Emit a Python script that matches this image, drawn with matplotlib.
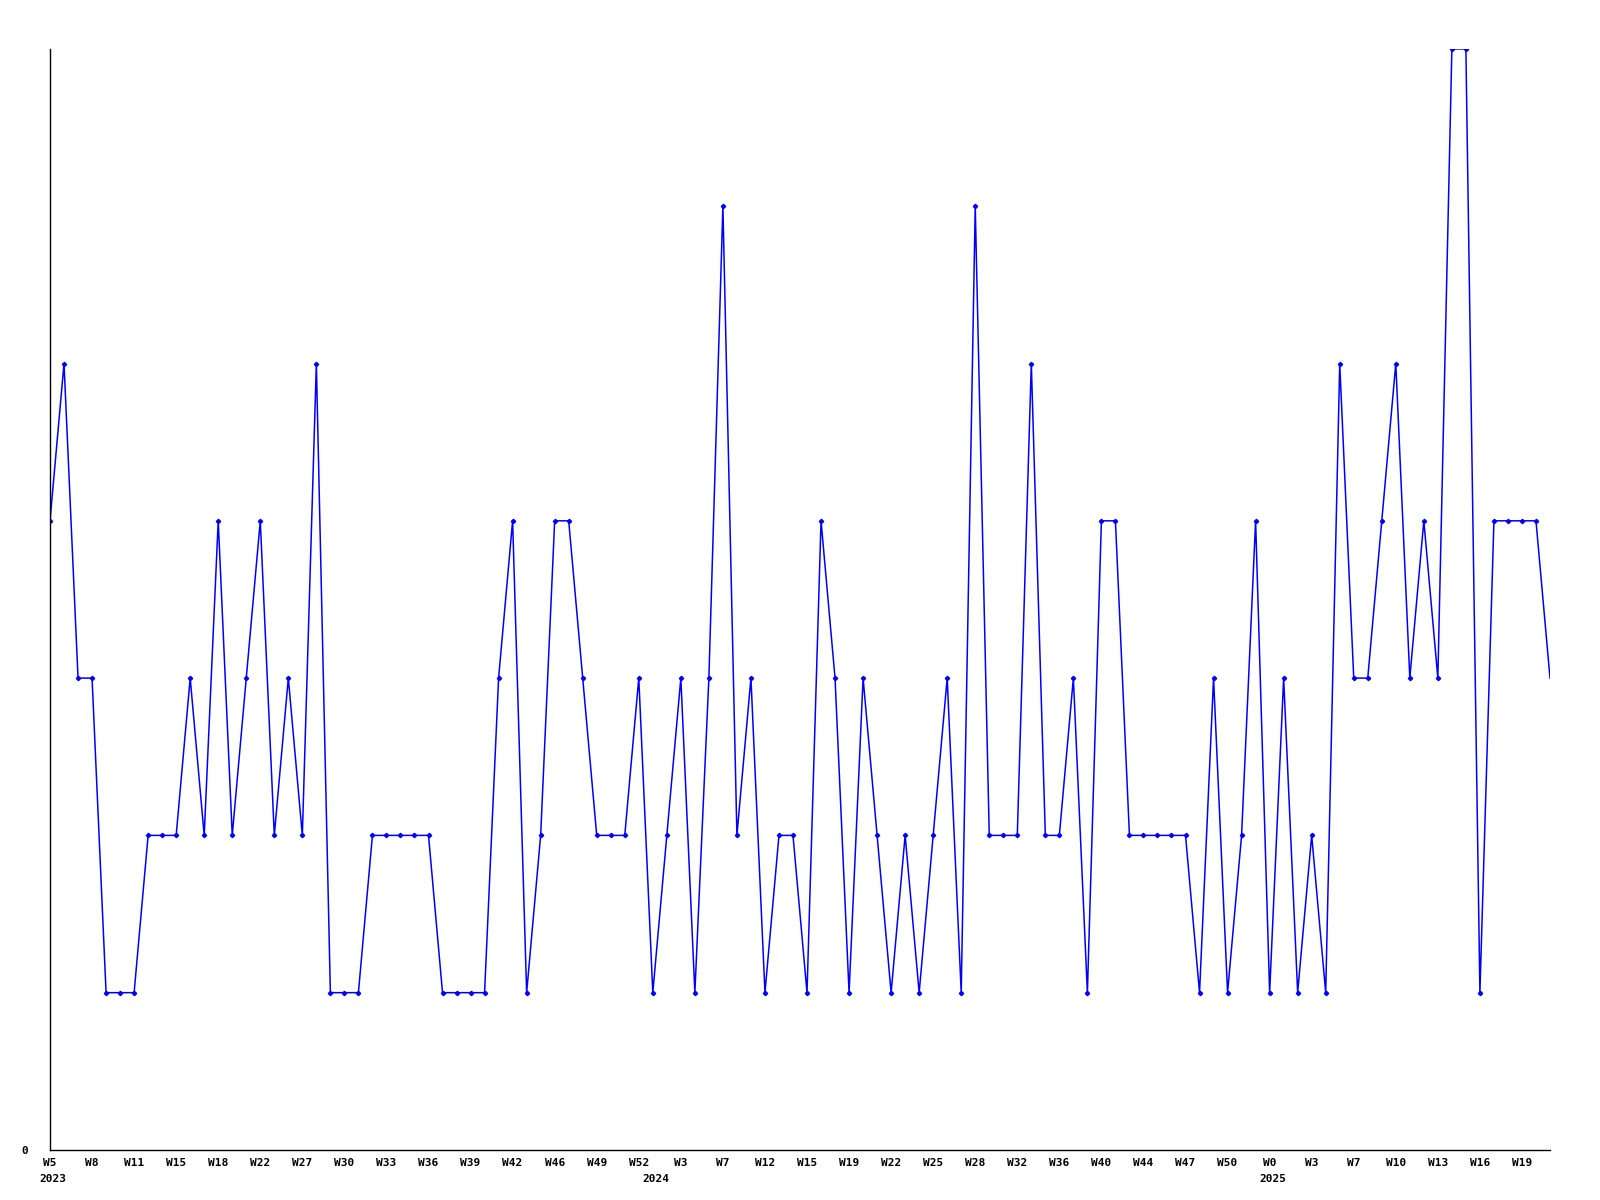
import matplotlib
matplotlib.use("Agg")
import matplotlib.pyplot as plt

# valeurs hebdomadaires (une par point)
valeurs = [4, 5, 3, 3, 1, 1, 1, 2, 2, 2, 3, 2, 4, 2, 3, 4, 2, 3, 2, 5,
           1, 1, 1, 2, 2, 2, 2, 2, 1, 1, 1, 1, 3, 4, 1, 2, 4, 4, 3, 2,
           2, 2, 3, 1, 2, 3, 1, 3, 6, 2, 3, 1, 2, 2, 1, 4, 3, 1, 3, 2,
           1, 2, 1, 2, 3, 1, 6, 2, 2, 2, 5, 2, 2, 3, 1, 4, 4, 2, 2, 2,
           2, 2, 1, 3, 1, 2, 4, 1, 3, 1, 2, 1, 5, 3, 3, 4, 5, 3, 4, 3,
           7, 7, 1, 4, 4, 4, 4, 3]

# étiquettes de semaine (un point sur trois)
semaines = ["W5", "W8", "W11", "W15", "W18", "W22", "W27", "W30", "W33", "W36",
            "W39", "W42", "W46", "W49", "W52", "W3", "W7", "W12", "W15", "W19",
            "W22", "W25", "W28", "W32", "W36", "W40", "W44", "W47", "W50", "W0",
            "W3", "W7", "W10", "W13", "W16", "W19"]

# années et index du premier point de chaque année
annees = ["2023", "2024", "2025"]
debut_annee = [0, 43, 87]

x = list(range(len(valeurs)))

fig = plt.figure(figsize=(16, 12), dpi=100)
ax = fig.add_axes([0.03125, 0.0417, 0.9375, 0.9175])

ax.plot(x, valeurs, color='#0000ff', linewidth=1.1)
ax.plot(x[:-1], valeurs[:-1], linestyle='none', marker='D', markersize=2.2,
        color='#0000ff')

ax.set_xlim(0, len(valeurs) - 1)
ax.set_ylim(0, 7)

ax.spines['top'].set_visible(False)
ax.spines['right'].set_visible(False)
ax.spines['left'].set_linewidth(1)
ax.spines['bottom'].set_linewidth(1)

police = dict(family='DejaVu Sans Mono', fontweight='bold', fontsize=8)

ax.set_xticks(x[::3])
ax.set_xticklabels(semaines, **police)
ax.set_yticks([0])
ax.set_yticklabels(["0"], **police)
ax.tick_params(axis='both', length=0)
ax.tick_params(axis='x', pad=6)
ax.tick_params(axis='y', pad=16)

for an, i in zip(annees, debut_annee):
    ax.annotate(an, xy=(i, 0), xytext=(2, -21), textcoords='offset points',
                ha='center', va='center', annotation_clip=False, **police)

fig.savefig('out.png', dpi=100)
